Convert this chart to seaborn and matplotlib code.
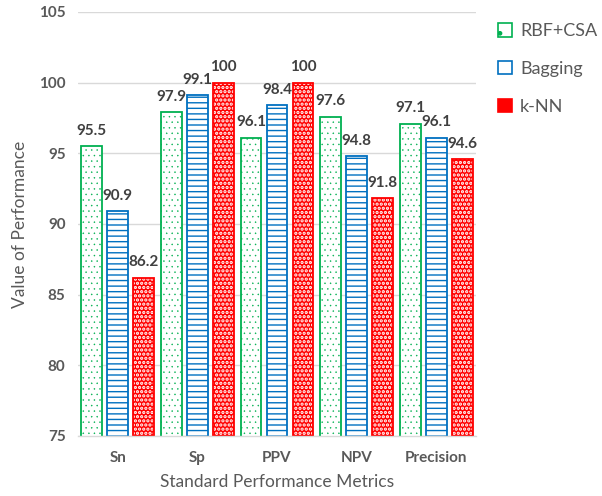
import matplotlib
matplotlib.use("Agg")
import matplotlib.pyplot as plt
import seaborn as sns
import pandas as pd
from matplotlib.patches import Rectangle, Patch

categories = ["Sn", "Sp", "PPV", "NPV", "Precision"]
methods = ["RBF+CSA", "Bagging", "k-NN"]
rbf_csa = [95.5, 97.9, 96.1, 97.6, 97.1]
bagging = [90.9, 99.1, 98.4, 94.8, 96.1]
knn = [86.2, 100, 100, 91.8, 94.6]
y_ticks = [75, 80, 85, 90, 95, 100, 105]

rows = []
for m, vals in zip(methods, [rbf_csa, bagging, knn]):
    for c, v in zip(categories, vals):
        rows.append({"Metric": c, "Method": m, "Value": v})
df = pd.DataFrame(rows)

sns.set_theme(style="white")
plt.rcParams['font.family'] = ['Lato', 'DejaVu Sans']
plt.rcParams['hatch.linewidth'] = 1.0

fig = plt.figure(figsize=(6.02, 4.96), dpi=100)
ax = fig.add_axes([0.1296, 0.121, 0.661, 0.855])

ax.set_axisbelow(True)
ax.yaxis.grid(True, color="#D9D9D9", linewidth=1)

sns.barplot(data=df, x="Metric", y="Value", hue="Method", order=categories,
            hue_order=methods, ax=ax, width=0.98, gap=0.2, legend=False,
            bottom=0, errorbar=None)

ax.set_ylim(75, 105)
ax.set_yticks(y_ticks)

styles = {
    "RBF+CSA": dict(face="white", hatch_col="#00B050", edge="#00B050", hatch="...", hlw=0.3),
    "Bagging": dict(face="white", hatch_col="#0070C0", edge="#0070C0", hatch="---", hlw=1.0),
    "k-NN": dict(face="#FF0000", hatch_col="white", edge="#FF0000", hatch="....", hlw=1.6),
}

containers = ax.containers
for m, cont in zip(methods, containers):
    st = styles[m]
    for p in cont:
        p.set_facecolor(st["face"])
        p.set_edgecolor(st["hatch_col"])
        p.set_hatch(st["hatch"])
        p.set_linewidth(0)
        try:
            p.set_hatch_linewidth(st["hlw"])
        except Exception:
            pass
        x0, y0 = p.get_x(), p.get_y()
        w, h = p.get_width(), p.get_height()
        ax.add_patch(Rectangle((x0, y0), w, h, fill=False, edgecolor=st["edge"],
                               linewidth=1.3, zorder=p.get_zorder() + 0.1))
    ax.bar_label(cont, labels=[f"{v:g}" for v in cont.datavalues], padding=6,
                 fontsize=11, fontweight="bold", color="#404040")

for s in ["top", "right", "left"]:
    ax.spines[s].set_visible(False)
ax.spines["bottom"].set_color("#D9D9D9")
ax.spines["bottom"].set_linewidth(1)

ax.tick_params(axis="both", length=0, labelsize=11, labelcolor="#595959")
for lbl in ax.get_xticklabels() + ax.get_yticklabels():
    lbl.set_fontweight("bold")
ax.tick_params(axis="x", pad=11)
ax.tick_params(axis="y", pad=9)

ax.set_xlabel("Standard Performance Metrics", fontsize=12.5, color="#595959", labelpad=6)
ax.set_ylabel("Value of Performance", fontsize=12.5, color="#595959", labelpad=8)

handles = []
for m in methods:
    st = styles[m]
    handles.append(Patch(facecolor=st["face"], edgecolor=st["edge"], hatch=st["hatch"][:1], linewidth=1.2))
fig.legend(handles=handles, labels=methods, loc="upper left", bbox_to_anchor=(0.81, 0.975),
           frameon=False, fontsize=13, labelcolor="#595959", handlelength=0.75, handleheight=0.75,
           labelspacing=1.2, handletextpad=0.45, borderaxespad=0.2)

fig.savefig("out.png", dpi=100)
